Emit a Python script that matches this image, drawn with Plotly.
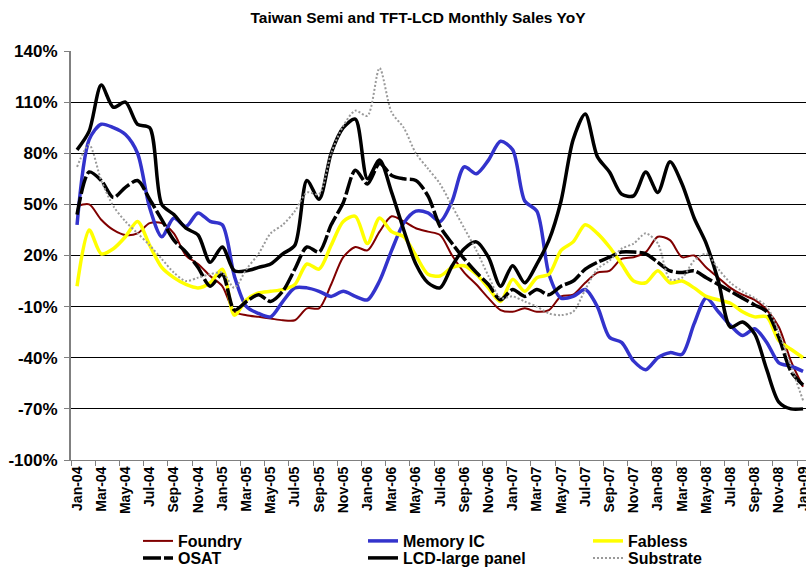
import plotly.graph_objects as go

# ---- data ----
month_names = ["Jan", "Feb", "Mar", "Apr", "May", "Jun", "Jul", "Aug", "Sep", "Oct", "Nov", "Dec"]
months = [f"{m}-{y:02d}" for y in range(4, 9) for m in month_names] + ["Jan-09"]
x_idx = list(range(len(months)))
tick_vals = x_idx[::2]
tick_text = months[::2]

foundry = [49, 50, 41, 35, 32, 33, 39, 39, 33, 20, 15, 8, 2, -13, -15, -16, -17, -18, -18, -11,
           -11, 3, 19, 25, 23, 34, 43, 40, 36, 34, 32, 20, 10, 3, -5, -12, -13, -11, -13, -12,
           -4, -3, 4, 10, 11, 18, 19, 22, 31, 29, 19, 20, 13, 7, 1, -3, -6, -12, -22, -42, -57]
memory_ic = [38, 88, 97, 95, 91, 80, 48, 31, 42, 37, 45, 40, 38, 8, -10, -14, -16, -7, 1, 1,
             -1, -4, -1, -4, -6, 5, 23, 39, 46, 45, 40, 52, 72, 68, 76, 87, 82, 52, 46, 9,
             -5, -4, 0, -10, -28, -31, -42, -47, -40, -37, -38, -20, -5, -13, -21, -27, -23, -31, -43, -45, -48]
fabless = [2, 35, 21, 24, 31, 40, 26, 13, 7, 3, 1, 4, 12, -15, -6, -2, -1, 0, 3, 15,
           12, 26, 40, 43, 27, 42, 34, 31, 20, 9, 8, 13, 14, 9, 1, -7, 6, -1, 7, 9,
           23, 28, 38, 33, 25, 15, 5, 4, 11, 4, 5, 1, -4, -6, -8, -13, -16, -16, -30, -35, -40]
osat = [44, 69, 64, 54, 60, 64, 53, 41, 29, 22, 13, 2, 9, -12, -7, -3, -7, -1, 12, 25,
        22, 38, 51, 70, 62, 74, 67, 65, 64, 55, 37, 27, 18, 10, 3, -6, 0, -4, 0, -3,
        2, 5, 12, 16, 19, 22, 22, 21, 16, 11, 10, 11, 7, 3, -1, -5, -9, -13, -28, -48, -56]
lcd_large = [82, 93, 120, 107, 110, 97, 95, 50, 44, 36, 32, 16, 25, 11, 11, 13, 15, 21, 26, 64,
             53, 80, 95, 100, 65, 76, 57, 35, 15, 4, 1, 14, 24, 28, 19, 2, 14, 4, 15, 29,
             52, 88, 103, 78, 69, 56, 55, 69, 57, 75, 62, 42, 27, 5, -22, -19, -26, -47, -66, -70, -70]
substrate = [72, 85, 64, 49, 40, 33, 26, 18, 10, 5, 7, 9, 10, 1, 12, 21, 33, 38, 46, 57,
             56, 80, 96, 105, 102, 130, 104, 95, 80, 71, 62, 49, 36, 23, 8, -5, -4, -7, -10, -14,
             -15, -13, 0, 12, 17, 24, 27, 33, 27, 6, 7, 17, 21, 12, 4, -1, -5, -10, -25, -45, -65]

y_tick_vals = [140, 110, 80, 50, 20, -10, -40, -70, -100]
y_tick_text = ["140%", "110%", "80%", "50%", "20%", "-10%", "-40%", "-70%", "-100%"]

FONT = "Liberation Sans, Arial, sans-serif"

series = [
    ("Foundry", foundry, dict(color="#800000", width=2), "legend", 180),
    ("Memory IC", memory_ic, dict(color="#3333CC", width=3.5), "legend", 180),
    ("Fabless", fabless, dict(color="#FFFF00", width=3.5), "legend", 90),
    ("OSAT", osat, dict(color="#000000", width=3.5, dash="18px,3px"), "legend2", 180),
    ("LCD-large panel", lcd_large, dict(color="#000000", width=3.5), "legend2", 180),
    ("Substrate", substrate, dict(color="#9A9A9A", width=2, dash="2px,2px"), "legend2", 90),
]

fig = go.Figure()
for name, vals, line, leg, lw in series:
    fig.add_trace(go.Scatter(
        x=x_idx, y=vals, name=name, mode="lines",
        line=dict(shape="spline", smoothing=0.8, **line),
        legend=leg, legendwidth=lw, hoverinfo="skip",
    ))

plot_l, plot_r, plot_t, plot_b = 71, 806, 51, 460
W, H = 806, 568
pw, ph = plot_r - plot_l, plot_b - plot_t

def px_x(px):
    return (px - plot_l) / pw

def px_y(py):
    return (plot_b - py) / ph

legend_common = dict(
    orientation="h", xref="paper", yref="paper", xanchor="left", yanchor="middle",
    bgcolor="rgba(0,0,0,0)", borderwidth=0,
    font=dict(family=FONT, size=16, color="black", weight="bold"),
    tracegroupgap=0, itemwidth=30,
)

fig.update_layout(
    width=W, height=H,
    margin=dict(l=plot_l, r=W - plot_r, t=plot_t, b=H - plot_b, autoexpand=False),
    paper_bgcolor="white", plot_bgcolor="white",
    title=dict(text="Taiwan Semi and TFT-LCD Monthly Sales YoY",
               x=418 / W, xanchor="center", xref="container",
               y=1 - 18 / H, yanchor="middle", yref="container",
               font=dict(family=FONT, size=15.5, color="black", weight="bold")),
    showlegend=True,
    legend=dict(x=px_x(138), y=px_y(541), **legend_common),
    legend2=dict(x=px_x(138), y=px_y(558), **legend_common),
    xaxis=dict(
        range=[-0.5, -0.5 + pw / 12.1], tickmode="array", tickvals=tick_vals, ticktext=tick_text,
        tickangle=-90, ticks="", showgrid=False, zeroline=False,
        showline=True, linecolor="#808080", linewidth=1,
        tickfont=dict(family=FONT, size=14, color="black", weight="bold"),
        ticklabeloverflow="allow",
        minor=dict(ticks="outside", tickmode="linear", tick0=-0.5, dtick=2, ticklen=5,
                   tickcolor="#808080", tickwidth=1, showgrid=False),
        automargin=False,
    ),
    yaxis=dict(
        range=[-100, 140], tickmode="array", tickvals=y_tick_vals, ticktext=y_tick_text,
        showgrid=True, gridcolor="#000000", gridwidth=1, zeroline=False,
        showline=True, linecolor="#808080", linewidth=2,
        ticks="outside", ticklen=5, tickcolor="#808080", ticklabelstandoff=3,
        tickfont=dict(family=FONT, size=17, color="black", weight="bold"),
        automargin=False,
    ),
)

fig.write_html("out.html", config={"displayModeBar": False},
               post_script="document.body.style.margin='0px';")
